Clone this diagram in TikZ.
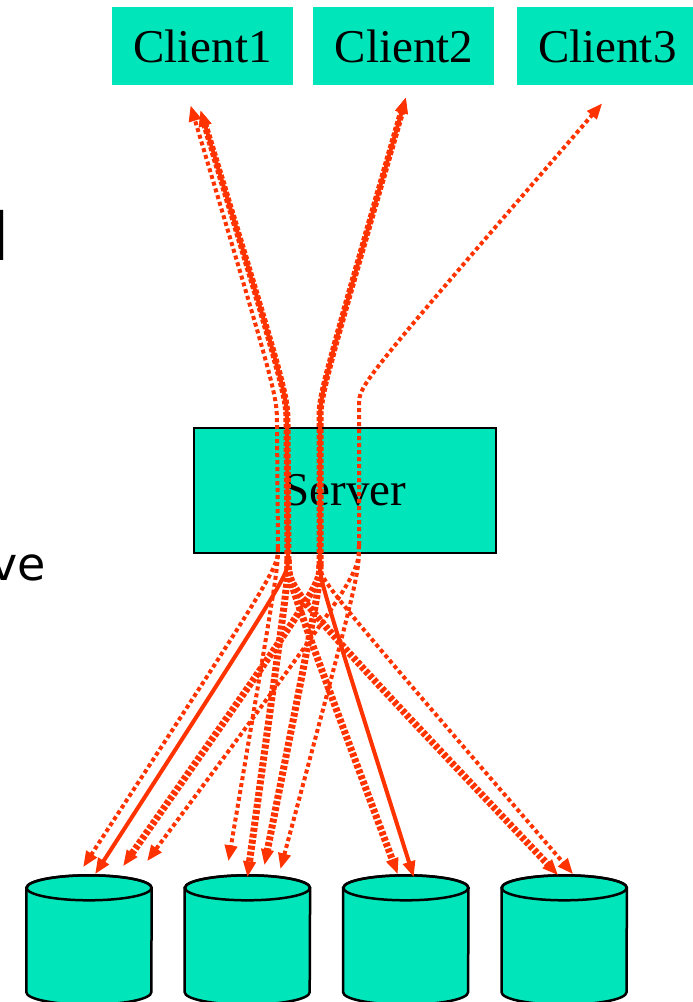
\documentclass[tikz,border=0pt]{standalone}
\usepackage{fontspec}
\setmainfont{Liberation Serif}
\newfontfamily\slidefont{DejaVu Sans}
\usetikzlibrary{positioning,arrows.meta}
\definecolor{boxfill}{RGB}{0,229,185}
\definecolor{flow}{RGB}{255,51,0}

\begin{document}
\begin{tikzpicture}[
    x=1pt, y=-1pt,
    box/.style={fill=boxfill, minimum width=181pt, minimum height=78pt, inner sep=0pt, font=\fontsize{47}{47}\selectfont},
    server/.style={draw, line width=2.5pt, fill=boxfill, minimum width=302pt, minimum height=125pt, font=\fontsize{47}{47}\selectfont},
    disk/.style={inner sep=0pt, minimum width=125pt, minimum height=129pt},
    frag/.style={anchor=base east, inner sep=0pt},
    tip/.style={-{Triangle[length=16pt,width=12pt]}},
    flowline/.style={tip, draw=flow, line width=4pt},
    flowdots/.style={tip, draw=flow, line width=4pt, dash pattern=on 4pt off 3pt},
    flowthick/.style={tip, draw=flow, line width=7pt, dash pattern=on 4pt off 2pt}
]
    \useasboundingbox (0,0) rectangle (693,1002);
    \clip (0,0) rectangle (693,1002);

    % Slide text cut at the left edge
    \node[frag, font=\slidefont\fontsize{66}{66}\selectfont] (fragl) at (9.7,260) {l};
    \node[frag, font=\slidefont\fontsize{46}{46}\selectfont] (fragve) at (46,580) {ve};

    % Clients
    \node[box] (c1) at (202.5,46) {Client1};
    \node[box, right=20pt of c1] (c2) {Client2};
    \node[box, right=22pt of c2] (c3) {Client3};

    % Server
    \node[server] (srv) at (345,490.5) {Server};

    % Disks
    \node[disk] (d1) at (89,940) {};
    \node[disk, right=33pt of d1] (d2) {};
    \node[disk, right=33pt of d2] (d3) {};
    \node[disk, right=33pt of d3] (d4) {};
    \foreach \d in {d1,d2,d3,d4} {
        \filldraw[line width=2.5pt, fill=boxfill]
            ([yshift=-12.5pt]\d.north west) -- ([yshift=12.5pt]\d.south west)
            arc (180:360:62.5pt and 12.5pt) -- ([yshift=-12.5pt]\d.north east)
            arc (0:180:62.5pt and 12.5pt) -- cycle;
        \draw[line width=2.5pt] ([yshift=-12.5pt]\d.north) ellipse (62.5pt and 12.5pt);
    }

    % Lanes through the server
    \coordinate (lAt) at (277,425);
    \coordinate (lAb) at (278,548);
    \coordinate (lBt) at (287,425);
    \coordinate (lBb) at (288,560);
    \coordinate (lCt) at (320,420);
    \coordinate (lCb) at (320,565);
    \coordinate (lDt) at (359,405);
    \coordinate (lDb) at (359,545);

    % Up to the clients
    \draw[flowdots] (lAb) -- (lAt) .. controls +(0,-30) .. ([xshift=-12pt,yshift=-20pt]c1.south);
    \draw[flowthick] (lBb) -- (lBt) .. controls +(0,-30) .. ([xshift=-2pt,yshift=-25pt]c1.south);
    \draw[flowline] (lBb) -- (lBt) .. controls +(0,-30) .. ([xshift=-2pt,yshift=-25pt]c1.south);
    \draw[flowthick] (lCb) -- (lCt) .. controls +(0,-25) .. ([xshift=2pt,yshift=-12pt]c2.south);
    \draw[flowline] (lCb) -- (lCt) .. controls +(0,-25) .. ([xshift=2pt,yshift=-12pt]c2.south);
    \draw[flowdots] (lDb) -- (lDt) .. controls +(0,-20) .. ([xshift=-5pt,yshift=-18pt]c3.south);

    % Down to the disks
    \draw[flowdots] (lAb) .. controls +(0,20) .. ([xshift=-6pt,yshift=8pt]d1.north);
    \draw[flowdots] (lAb) .. controls +(0,20) .. ([xshift=-19pt,yshift=14pt]d2.north);
    \draw[flowline] (lBb) .. controls +(0,15) .. ([xshift=6pt,yshift=1pt]d1.north);
    \draw[flowthick] (lBb) .. controls +(0,20) .. ([xshift=0pt,yshift=-2pt]d2.north);
    \draw[flowthick] (lBb) .. controls +(0,20) .. ([xshift=-8pt,yshift=1pt]d3.north);
    \draw[flowthick] (lBb) .. controls +(0,30) .. ([xshift=-6pt,yshift=0pt]d4.north);
    \draw[flowthick] (lCb) .. controls +(0,20) .. ([xshift=34pt,yshift=9pt]d1.north);
    \draw[flowthick] (lCb) .. controls +(0,20) .. ([xshift=17pt,yshift=10pt]d2.north);
    \draw[flowline] (lCb) .. controls +(0,15) .. ([xshift=8pt,yshift=-2pt]d3.north);
    \draw[flowdots] (lCb) .. controls +(0,15) .. ([xshift=9pt,yshift=1pt]d4.north);
    \draw[flowdots] (lDb) .. controls +(0,30) .. ([xshift=58pt,yshift=14pt]d1.north);
    \draw[flowdots] (lDb) .. controls +(0,30) .. ([xshift=33pt,yshift=6pt]d2.north);
\end{tikzpicture}
\end{document}
